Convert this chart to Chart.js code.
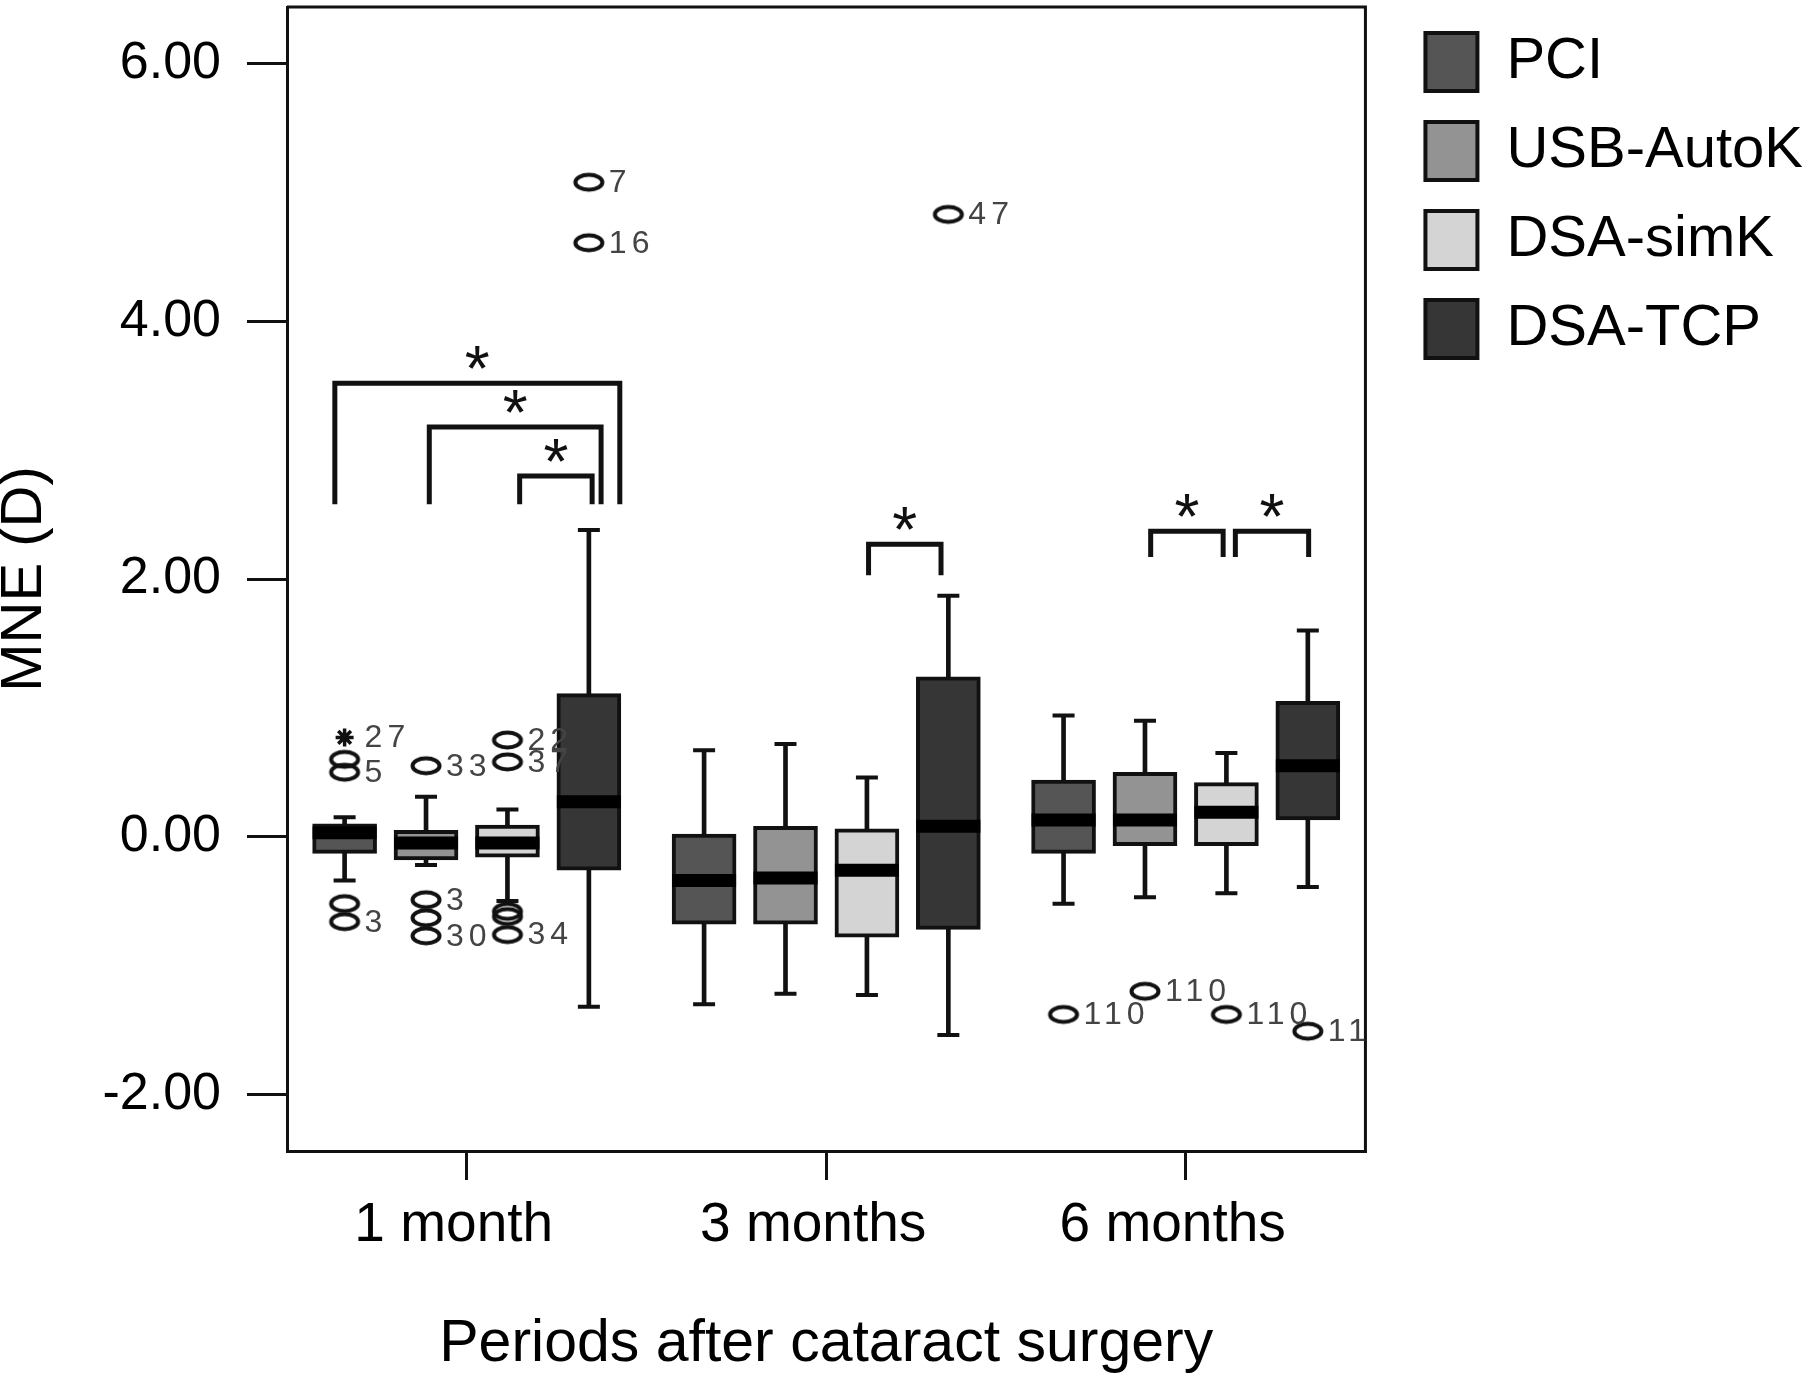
<!DOCTYPE html>
<html>
<head>
<meta charset="utf-8">
<script src="https://cdn.jsdelivr.net/npm/chart.js@4.4.1/dist/chart.umd.min.js"></script>
<style>
  html, body { margin: 0; padding: 0; background: #fff; }
</style>
</head>
<body>
<canvas id="mainChart" width="1813" height="1378"></canvas>
<script>
// カテゴリ・系列
const periods = ['1 month', '3 months', '6 months'];
const methods = ['PCI', 'USB-AutoK', 'DSA-simK', 'DSA-TCP'];
const yTicks = [-2, 0, 2, 4, 6];

// 箱ひげ図の値 [手法][期間]
const whiskerLow  = [[-0.34, -1.30, -0.52], [-0.22, -1.22, -0.47], [-0.50, -1.23, -0.44], [-1.32, -1.54, -0.39]];
const q1          = [[-0.13, -0.68, -0.13], [-0.18, -0.68, -0.07], [-0.16, -0.78, -0.07], [-0.26, -0.72, 0.13]];
const median      = [[0.03, -0.34, 0.13], [-0.05, -0.32, 0.13], [-0.05, -0.26, 0.19], [0.27, 0.08, 0.55]];
const q3          = [[0.10, 0.02, 0.44], [0.05, 0.08, 0.50], [0.09, 0.06, 0.42], [1.11, 1.24, 1.05]];
const whiskerHigh = [[0.15, 0.67, 0.94], [0.31, 0.72, 0.90], [0.21, 0.46, 0.65], [2.38, 1.87, 1.60]];

// 外れ値（期間, 手法, 値, ケース番号）
const outPeriod = [0, 0, 0, 0, 0, 0, 0, 0, 0, 0, 0, 0, 0, 0, 0, 0, 1, 2, 2, 2, 2];
const outMethod = [0, 0, 0, 0, 0, 1, 1, 1, 1, 2, 2, 2, 2, 2, 3, 3, 3, 0, 1, 2, 3];
const outValue  = [0.77, 0.60, 0.50, -0.52, -0.66, 0.55, -0.49, -0.63, -0.77, 0.75, 0.58, -0.58, -0.62, -0.76, 5.08, 4.61, 4.83, -1.38, -1.20, -1.38, -1.51];
const outLabel  = ['27', '', '5', '', '3', '33', '3', '', '30', '22', '37', '', '', '34', '7', '16', '47', '110', '110', '110', '110'];
const outExtreme = [true, false, false, false, false, false, false, false, false, false, false, false, false, false, false, false, false, false, false, false, false];

// 有意差の括弧（期間, 手法位置from/to, 上端, 下端）
const sigPeriod = [0, 0, 0, 1, 2, 2];
const sigFrom   = [-0.12, 1.04, 2.15, 2.02, 1.07, 2.11];
const sigTo     = [3.38, 3.15, 3.04, 2.91, 1.96, 3.01];
const sigTop    = [3.52, 3.18, 2.80, 2.27, 2.37, 2.37];
const sigBase   = [2.58, 2.58, 2.58, 2.03, 2.17, 2.17];

const fillColors = ['#555555', '#939393', '#d4d4d4', '#363636'];
const slot = 0.2265;
const xPos = (p, m) => p + (m - 1.5) * slot;

Chart.defaults.font.family = '"Liberation Sans", Arial, sans-serif';
Chart.defaults.color = '#000';

// 外れ値の楕円マーカー
const ring = document.createElement('canvas');
ring.width = 36;
ring.height = 26;
const rc = ring.getContext('2d');
rc.lineWidth = 4;
rc.strokeStyle = '#111';
rc.beginPath();
rc.ellipse(18, 13, 13.5, 7.5, 0, 0, Math.PI * 2);
rc.stroke();

const datasets = [];

// 箱（凡例に出すのはこれだけ）
methods.forEach((name, m) => {
    datasets.push({
        type: 'bar',
        label: name,
        data: periods.map((_, p) => ({x: xPos(p, m), y: [q1[m][p], q3[m][p]]})),
        backgroundColor: fillColors[m],
        borderColor: '#111',
        borderWidth: 4,
        borderSkipped: false,
        barThickness: 64,
        grouped: false,
        order: 4,
    });
});

// ひげ
methods.forEach((name, m) => {
    datasets.push({
        type: 'bar',
        label: name + ' whisker',
        data: periods.map((_, p) => ({x: xPos(p, m), y: [whiskerLow[m][p], whiskerHigh[m][p]]})),
        backgroundColor: '#111',
        borderWidth: 0,
        barThickness: 4,
        grouped: false,
        order: 5,
    });
    datasets.push({
        type: 'scatter',
        label: name + ' cap',
        data: periods.map((_, p) => ({x: xPos(p, m), y: whiskerLow[m][p]}))
            .concat(periods.map((_, p) => ({x: xPos(p, m), y: whiskerHigh[m][p]}))),
        pointStyle: 'line',
        pointRadius: 11,
        pointBorderWidth: 4,
        pointBorderColor: '#111',
        order: 3,
    });
});

// 中央値
methods.forEach((name, m) => {
    datasets.push({
        type: 'scatter',
        label: name + ' median',
        data: periods.map((_, p) => ({x: xPos(p, m), y: median[m][p]})),
        pointStyle: 'line',
        pointRadius: 32,
        pointBorderWidth: 13,
        pointBorderColor: '#000',
        order: 3,
    });
});

// 外れ値
const outPoints = outValue.map((v, i) => ({x: xPos(outPeriod[i], outMethod[i]), y: v, label: outLabel[i]}));
datasets.push({
    type: 'scatter',
    label: 'outliers',
    data: outPoints.filter((_, i) => !outExtreme[i]),
    pointStyle: ring,
    pointRadius: 10,
    pointLabels: true,
    order: 2,
});
datasets.push({
    type: 'scatter',
    label: 'extremes',
    data: outPoints.filter((_, i) => outExtreme[i]),
    pointStyle: 'star',
    pointRadius: 9,
    pointBorderWidth: 3.5,
    pointBorderColor: '#111',
    pointLabels: true,
    order: 2,
});

// 有意差の括弧
sigPeriod.forEach((p, i) => {
    const l = xPos(p, sigFrom[i]);
    const r = xPos(p, sigTo[i]);
    datasets.push({
        type: 'line',
        label: 'sig ' + i,
        data: [{x: l, y: sigBase[i]}, {x: l, y: sigTop[i]}, {x: r, y: sigTop[i]}, {x: r, y: sigBase[i]}],
        borderColor: '#111',
        borderWidth: 5,
        borderJoinStyle: 'miter',
        pointRadius: 0,
        tension: 0,
        fill: false,
        order: 1,
    });
});

// 枠・星印・ケース番号を描くプラグイン
const annotate = {
    id: 'annotate',
    afterDatasetsDraw(chart) {
        const {ctx, chartArea, scales: {x, y}} = chart;
        ctx.save();

        // 枠の上辺と右辺
        ctx.strokeStyle = '#111';
        ctx.lineWidth = 3;
        ctx.beginPath();
        ctx.moveTo(chartArea.left, chartArea.top);
        ctx.lineTo(chartArea.right, chartArea.top);
        ctx.lineTo(chartArea.right, chartArea.bottom);
        ctx.stroke();

        ctx.font = '64px "Liberation Sans", Arial, sans-serif';
        ctx.fillStyle = '#111';
        ctx.textAlign = 'center';
        ctx.textBaseline = 'alphabetic';
        sigPeriod.forEach((p, i) => {
            const cx = x.getPixelForValue((xPos(p, sigFrom[i]) + xPos(p, sigTo[i])) / 2);
            ctx.fillText('*', cx, y.getPixelForValue(sigTop[i]) + 8);
        });

        ctx.beginPath();
        ctx.rect(chartArea.left, chartArea.top, chartArea.width, chartArea.height);
        ctx.clip();
        ctx.font = '32px "Liberation Sans", Arial, sans-serif';
        ctx.letterSpacing = '5px';
        ctx.fillStyle = '#444';
        ctx.textAlign = 'left';
        ctx.textBaseline = 'middle';
        chart.data.datasets.forEach((ds, i) => {
            if (!ds.pointLabels) return;
            chart.getDatasetMeta(i).data.forEach((pt, j) => {
                ctx.fillText(ds.data[j].label, pt.x + 20, pt.y + 1);
            });
        });
        ctx.restore();
    }
};

const chrt = document.getElementById('mainChart').getContext('2d');
const mainChart = new Chart(chrt, {
    type: 'bar',
    data: {datasets: datasets},
    plugins: [annotate],
    options: {
        responsive: false,
        animation: false,
        events: [],
        layout: {autoPadding: false, padding: {top: 2, right: 0, bottom: 0, left: 0}},
        plugins: {
            tooltip: {enabled: false},
            legend: {
                position: 'right',
                align: 'start',
                labels: {
                    boxWidth: 52,
                    boxHeight: 58,
                    padding: 31,
                    color: '#000',
                    font: {size: 58},
                    filter: item => item.datasetIndex < methods.length,
                },
            },
        },
        scales: {
            x: {
                type: 'linear',
                min: -0.5,
                max: 2.5,
                offset: false,
                afterBuildTicks: s => { s.ticks = periods.map((_, i) => ({value: i})); },
                afterFit: s => { s.height = 227; s.paddingLeft = 0; s.paddingRight = 0; },
                ticks: {
                    callback: v => periods[v],
                    font: {size: 55},
                    color: '#000',
                    padding: 13,
                    labelOffset: -13,
                    maxRotation: 0,
                    autoSkip: false,
                },
                grid: {offset: false, drawOnChartArea: false, tickLength: 29, lineWidth: 3, color: '#111'},
                border: {color: '#111', width: 3},
                title: {
                    display: true,
                    text: 'Periods after cataract surgery',
                    font: {size: 59, lineHeight: 1},
                    color: '#000',
                    padding: {top: 0, bottom: 4},
                },
            },
            y: {
                min: -2.44,
                max: 6.44,
                afterBuildTicks: s => { s.ticks = yTicks.map(v => ({value: v})); },
                afterFit: s => { s.width = 287; s.paddingTop = 0; s.paddingBottom = 0; },
                ticks: {
                    callback: v => v.toFixed(2),
                    font: {size: 52},
                    color: '#000',
                    padding: 26,
                },
                grid: {drawOnChartArea: false, tickLength: 40, lineWidth: 3, color: '#111'},
                border: {color: '#111', width: 3},
                title: {
                    display: true,
                    text: 'MNE (D)',
                    font: {size: 58, lineHeight: 1},
                    color: '#000',
                    padding: {top: -4, bottom: 0},
                },
            },
            // 上と右の余白だけを取る見えない軸
            xTop: {
                type: 'linear',
                position: 'top',
                display: false,
                min: 0,
                max: 1,
                afterFit: s => { s.height = 5; s.paddingLeft = 0; s.paddingRight = 0; },
            },
            yRight: {
                type: 'linear',
                position: 'right',
                display: false,
                min: 0,
                max: 1,
                afterFit: s => { s.width = 29; s.paddingTop = 0; s.paddingBottom = 0; },
            },
        },
    },
});
</script>
</body>
</html>
